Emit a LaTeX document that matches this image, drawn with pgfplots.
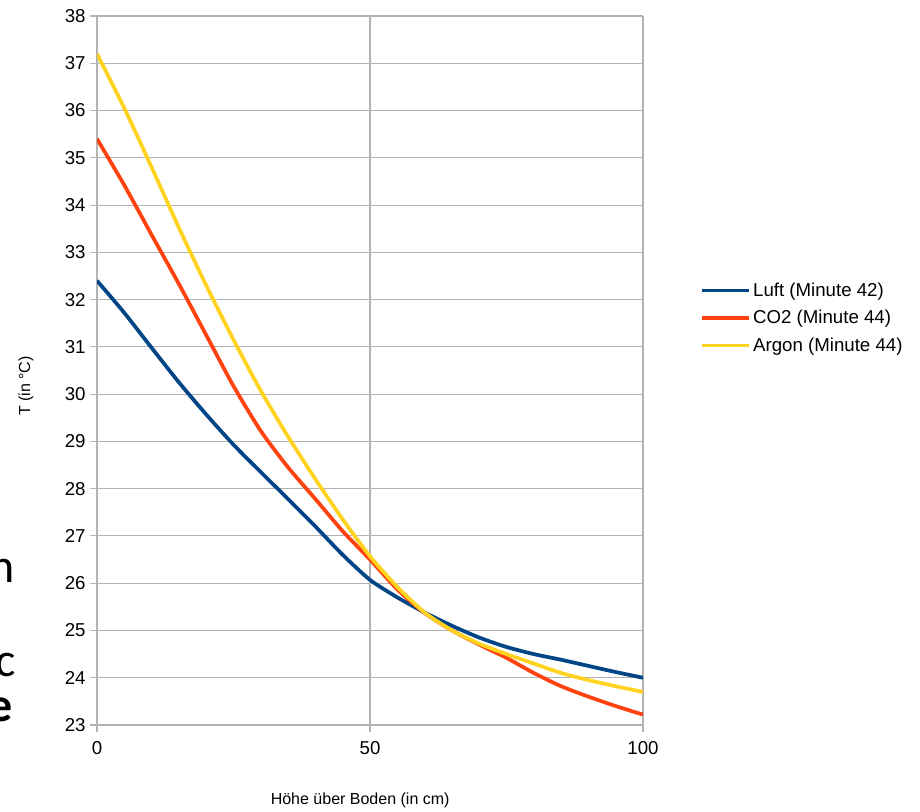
\documentclass[border=0pt]{standalone}
\usepackage{pgfplots}
\pgfplotsset{compat=1.18}
\usepackage{fontspec}
\setmainfont{Liberation Sans}
\newfontfamily\slidefont{Carlito}
\definecolor{cLuft}{HTML}{004586}
\definecolor{cCO}{HTML}{FF420E}
\definecolor{cAr}{HTML}{FFD320}
\definecolor{cGrid}{HTML}{B3B3B3}
\begin{document}
\begin{tikzpicture}
\useasboundingbox (0,0) rectangle (690pt,609pt);
\begin{axis}[
  at={(72.75pt,65.25pt)}, anchor=south west,
  scale only axis, width=409.5pt, height=531.75pt,
  xmin=0, xmax=100, ymin=23, ymax=38,
  xtick={0,50,100}, ytick={23,24,...,38},
  grid=major, major grid style={cGrid, line width=0.8pt},
  axis line style={cGrid, line width=0.8pt},
  tick style={cGrid, line width=0.8pt},
  tick align=outside, major tick length=5pt,
  axis x line*=bottom, axis y line*=left,
  tick label style={font=\fontsize{14}{16}\selectfont},
  xticklabel style={yshift=-4pt},
  /pgf/number format/assume math mode=true,
  xlabel={Höhe über Boden (in cm)},
  ylabel={T (in °C)},
  xlabel style={font=\fontsize{12}{14}\selectfont, at={(rel axis cs:0.482,-0.106)}, anchor=center},
  ylabel style={font=\fontsize{12}{14}\selectfont, at={(rel axis cs:-0.13,0.478)}, anchor=center},
  legend style={at={(rel axis cs:1.104,0.628)}, anchor=north west, draw=none, fill=none,
    font=\fontsize{14}{16}\selectfont, row sep=5pt, inner sep=0pt},
  legend cell align=left,
  legend image code/.code={\draw[#1] (0pt,0pt) -- (35pt,0pt);},
  every axis plot/.append style={line width=2.8pt, line join=round, smooth, tension=0.4},
]
\addplot[cLuft] coordinates {
(0,32.4) (5,31.72) (10,30.98) (15,30.25) (20,29.57) (25,28.93) (30,28.35) (35,27.78)
(40,27.2) (45,26.6) (50,26.07) (55,25.7) (60,25.38) (65,25.1) (70,24.85) (75,24.65)
(80,24.5) (85,24.38) (90,24.25) (95,24.12) (100,24.0)};
\addlegendentry{Luft (Minute 42)}
\addplot[cCO] coordinates {
(0,35.4) (5,34.42) (10,33.37) (15,32.33) (20,31.25) (25,30.17) (30,29.22) (35,28.45)
(40,27.78) (45,27.1) (50,26.5) (55,25.87) (60,25.37) (65,25.0) (70,24.7) (75,24.42)
(80,24.1) (85,23.82) (90,23.6) (95,23.4) (100,23.22)};
\addlegendentry{CO2 (Minute 44)}
\addplot[cAr] coordinates {
(0,37.2) (5,36.05) (10,34.8) (15,33.52) (20,32.3) (25,31.15) (30,30.07) (35,29.1)
(40,28.2) (45,27.35) (50,26.57) (55,25.92) (60,25.38) (65,25.0) (70,24.72) (75,24.5)
(80,24.3) (85,24.1) (90,23.95) (95,23.82) (100,23.7)};
\addlegendentry{Argon (Minute 44)}
\end{axis}
\node[anchor=base east, inner sep=0pt, font=\slidefont\fontsize{36}{40}\selectfont] at (11.5pt,171.75pt) {n};
\node[anchor=base east, inner sep=0pt, font=\slidefont\fontsize{36}{40}\selectfont] at (12pt,101.25pt) {c};
\node[anchor=base east, inner sep=0pt, font=\slidefont\bfseries\fontsize{36}{40}\selectfont] at (9.5pt,67.5pt) {e};
\end{tikzpicture}
\end{document}
